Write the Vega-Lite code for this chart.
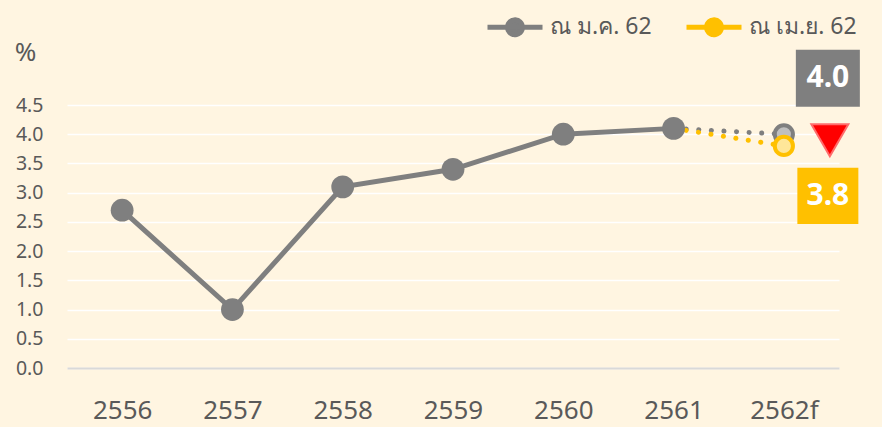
{
  "$schema": "https://vega.github.io/schema/vega-lite/v6.json",
  "autosize": {"type": "none"},
  "width": 772,
  "height": 263,
  "padding": {"left": 67, "top": 105, "right": 43, "bottom": 59},
  "background": "#FFF5E1",
  "config": {"view": {"stroke": null}, "font": "Noto Sans"},
  "datasets": {
    "actual": [
      {"year": "2556", "value": 2.7},
      {"year": "2557", "value": 1.0},
      {"year": "2558", "value": 3.1},
      {"year": "2559", "value": 3.4},
      {"year": "2560", "value": 4.0},
      {"year": "2561", "value": 4.1}
    ],
    "forecast": [
      {"year": "2561", "value": 4.1, "series": "ณ ม.ค. 62"},
      {"year": "2562f", "value": 4.0, "series": "ณ ม.ค. 62"},
      {"year": "2561", "value": 4.1, "series": "ณ เม.ย. 62"},
      {"year": "2562f", "value": 3.8, "series": "ณ เม.ย. 62"}
    ]
  },
  "encoding": {
    "x": {
      "field": "year",
      "type": "ordinal",
      "scale": {"type": "point", "padding": 0.5, "domain": ["2556", "2557", "2558", "2559", "2560", "2561", "2562f"]},
      "axis": {
        "title": null,
        "labelAngle": 0,
        "labelFontSize": 26,
        "labelColor": "#595959",
        "labelPadding": 29,
        "ticks": false,
        "grid": false,
        "domain": true,
        "domainColor": "#D9D9D9",
        "domainWidth": 2
      }
    },
    "y": {
      "field": "value",
      "type": "quantitative",
      "scale": {"domain": [0, 4.5], "nice": false},
      "axis": {
        "values": [0, 0.5, 1, 1.5, 2, 2.5, 3, 3.5, 4, 4.5],
        "format": ".1f",
        "labelFontSize": 19.5,
        "labelColor": "#595959",
        "labelPadding": 24,
        "ticks": false,
        "domain": false,
        "grid": true,
        "gridColor": "#FFFFFF",
        "gridWidth": 1.5,
        "title": "%",
        "titleAngle": 0,
        "titleX": -42,
        "titleY": -53,
        "titleAlign": "center",
        "titleBaseline": "middle",
        "titleFontSize": 26,
        "titleFontWeight": "normal",
        "titleColor": "#595959"
      }
    }
  },
  "layer": [
    {
      "data": {"name": "actual"},
      "mark": {"type": "line", "color": "#7F7F7F", "strokeWidth": 5}
    },
    {
      "data": {"name": "forecast"},
      "mark": {"type": "line", "strokeWidth": 5, "strokeDash": [0.1, 12.5], "strokeCap": "round"},
      "encoding": {
        "color": {
          "field": "series",
          "type": "nominal",
          "scale": {"domain": ["ณ ม.ค. 62", "ณ เม.ย. 62"], "range": ["#7F7F7F", "#FFC000"]},
          "legend": {
            "orient": "none",
            "direction": "horizontal",
            "legendX": 418,
            "legendY": -108,
            "padding": 0,
            "title": null,
            "symbolType": "M-1,0H1M0.27,0A0.27,0.27,0,1,1,-0.27,0A0.27,0.27,0,1,1,0.27,0Z",
            "symbolSize": 3025,
            "symbolStrokeWidth": 5,
            "labelFontSize": 23,
            "labelColor": "#595959",
            "labelOffset": 5,
            "columnPadding": 24,
            "encode": {
              "symbols": {
                "update": {
                  "fill": {"scale": "color", "field": "value"},
                  "stroke": {"scale": "color", "field": "value"},
                  "strokeDash": {"value": [1, 0]},
                  "opacity": {"value": 1}
                }
              }
            }
          }
        }
      }
    },
    {
      "data": {"name": "actual"},
      "mark": {"type": "point", "filled": true, "size": 520, "color": "#7F7F7F", "opacity": 1}
    },
    {
      "data": {"name": "forecast"},
      "transform": [{"filter": "datum.year == '2562f' && datum.value == 4.0"}],
      "mark": {"type": "point", "shape": "circle", "size": 330, "fill": "#BFBFBF", "stroke": "#7F7F7F", "strokeWidth": 4, "opacity": 1, "fillOpacity": 1}
    },
    {
      "data": {"name": "forecast"},
      "transform": [{"filter": "datum.year == '2562f' && datum.value == 3.8"}],
      "mark": {"type": "point", "shape": "circle", "size": 330, "fill": "#FFE699", "stroke": "#FFC000", "strokeWidth": 4, "opacity": 1, "fillOpacity": 1}
    },
    {
      "data": {"name": "forecast"},
      "transform": [{"filter": "datum.year == '2562f' && datum.value == 4.0"}],
      "mark": {"type": "point", "shape": "M-1,-0.89H1V0.89H-1Z", "size": 4096, "filled": true, "color": "#7F7F7F", "opacity": 1, "xOffset": 44, "yOffset": -56}
    },
    {
      "data": {"name": "forecast"},
      "transform": [{"filter": "datum.year == '2562f' && datum.value == 4.0"}],
      "mark": {"type": "text", "dx": 44, "dy": -56, "fontSize": 30, "fontWeight": "bold", "color": "#FFFFFF", "align": "center", "baseline": "middle"},
      "encoding": {"text": {"field": "value", "type": "quantitative", "format": ".1f"}}
    },
    {
      "data": {"name": "forecast"},
      "transform": [{"filter": "datum.year == '2562f' && datum.value == 3.8"}],
      "mark": {"type": "point", "shape": "M-1,-0.92H1V0.92H-1Z", "size": 3721, "filled": true, "color": "#FFC000", "opacity": 1, "xOffset": 44, "yOffset": 50}
    },
    {
      "data": {"name": "forecast"},
      "transform": [{"filter": "datum.year == '2562f' && datum.value == 3.8"}],
      "mark": {"type": "text", "dx": 44, "dy": 50, "fontSize": 30, "fontWeight": "bold", "color": "#FFFFFF", "align": "center", "baseline": "middle"},
      "encoding": {"text": {"field": "value", "type": "quantitative", "format": ".1f"}}
    },
    {
      "data": {"name": "forecast"},
      "transform": [{"filter": "datum.year == '2562f' && datum.value == 4.0"}],
      "mark": {"type": "point", "shape": "triangle-down", "size": 1369, "fill": "#FF0000", "stroke": "#FF6B6B", "strokeWidth": 2, "opacity": 1, "fillOpacity": 1, "xOffset": 46, "yOffset": 6}
    }
  ]
}
